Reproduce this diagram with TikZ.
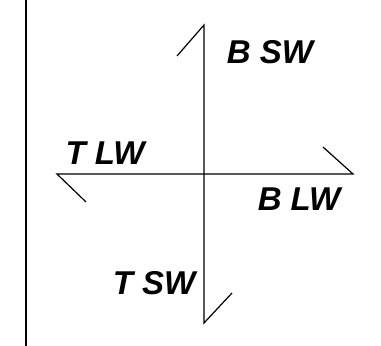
\documentclass[tikz,border=0pt]{standalone}
\usepackage{fontspec}
\setsansfont{Liberation Sans}
\usetikzlibrary{positioning, calc}

\begin{document}
\begin{tikzpicture}[
        x=1pt, y=1pt,
        axis/.style={
            draw=black,
            line width=1.2pt
        },
        wall/.style={
            draw=black,
            line width=1.8pt
        },
        label/.style={
            font=\sffamily\bfseries\itshape\fontsize{33}{33}\selectfont,
            inner sep=0pt
        }
    ]
    \useasboundingbox (0,0) rectangle (381,346);

    % Wall line on the left
    \coordinate (wtop) at (26,346);
    \coordinate (wbot) at (26,0);
    \draw[wall] (wtop) -- (wbot);

    % Axis ends
    \coordinate (top) at (204,321);
    \coordinate (bot) at (204,23);
    \coordinate (lft) at (57,172);
    \coordinate (rgt) at (353,172);

    % Half-arrow barbs
    \coordinate (topb) at (177,290);
    \coordinate (botb) at (232,53);
    \coordinate (lftb) at (86,144);
    \coordinate (rgtb) at (323,199);

    % Cross
    \draw[axis] (topb) -- (top) -- (bot) -- (botb);
    \draw[axis] (lftb) -- (lft) -- (rgt) -- (rgtb);

    % Labels
    \node[label] (bsw) at (270,294) {B SW};
    \node[label] (tlw) at (105,193) {T LW};
    \node[label] (blw) at (299,147) {B LW};
    \node[label] (tsw) at (154,63) {T SW};

\end{tikzpicture}
\end{document}
